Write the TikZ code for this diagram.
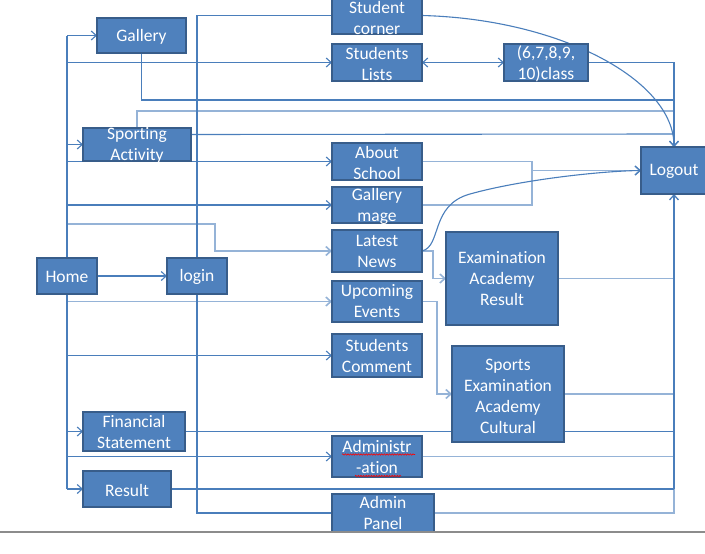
\documentclass[tikz,border=0pt]{standalone}
\usepackage{fontspec}
\setmainfont{Carlito}[Ligatures={NoCommon}]
\usetikzlibrary{arrows.meta,backgrounds,decorations.pathmorphing}
\definecolor{boxfill}{HTML}{4F81BD}
\definecolor{boxline}{HTML}{385D8A}
\definecolor{wire}{HTML}{4A7EBB}
\definecolor{wirelt}{HTML}{95B3D7}
\definecolor{rulegray}{HTML}{8C8C8C}
\tikzset{
 box/.style={draw=boxline, fill=boxfill, line width=1.6pt, inner sep=0pt, outer sep=0pt},
 lbl/.style={text=white, align=center, font=\fontsize{17.5}{21}\selectfont, inner sep=0pt},
 wire/.style={draw=wire, line width=1.1pt},
 wirel/.style={draw=wirelt, line width=1.6pt},
 arr/.style={-{Straight Barb[length=5pt,width=9pt]}},
 darr/.style={{Straight Barb[length=5pt,width=9pt]}-{Straight Barb[length=5pt,width=9pt]}},
 spell/.style={draw=red, line width=0.6pt, decorate, decoration={snake, amplitude=0.7pt, segment length=2.6pt}},
}
\begin{document}
\begin{tikzpicture}[x=1pt,y=-1pt]
\useasboundingbox (0,0) rectangle (705,554);
% boxes
\node[box,minimum width=89pt,minimum height=35pt] (gal) at (141.5,35.5) {};
\node[box,minimum width=108pt,minimum height=33pt] (sport) at (137,144.5) {};
\node[box,minimum width=60pt,minimum height=36pt] (home) at (67,276) {};
\node[box,minimum width=60pt,minimum height=36pt] (login) at (197,276) {};
\node[box,minimum width=102pt,minimum height=39pt] (fin) at (134,431.5) {};
\node[box,minimum width=88pt,minimum height=36pt] (res) at (127,489) {};
\node[box,minimum width=90pt,minimum height=37pt] (scor) at (377,15.5) {};
\node[box,minimum width=90pt,minimum height=37pt] (slist) at (377,62.5) {};
\node[box,minimum width=84pt,minimum height=37pt] (cls) at (546,62.5) {};
\node[box,minimum width=90pt,minimum height=37pt] (about) at (377,161.5) {};
\node[box,minimum width=90pt,minimum height=36pt] (galm) at (377,205) {};
\node[box,minimum width=90pt,minimum height=42pt] (news) at (377,251) {};
\node[box,minimum width=90pt,minimum height=41pt] (upc) at (377,301.5) {};
\node[box,minimum width=90pt,minimum height=43pt] (scom) at (377,355.5) {};
\node[box,minimum width=112pt,minimum height=93pt] (exam) at (502,278.5) {};
\node[box,minimum width=112pt,minimum height=96pt] (spx) at (508,394) {};
\node[box,minimum width=66pt,minimum height=47pt] (logout) at (674,170.5) {};
\node[box,minimum width=90pt,minimum height=41pt] (admn) at (377,456.5) {};
\node[box,minimum width=102pt,minimum height=38pt] (apan) at (383,513) {};
% labels
\node[lbl] (gal-t) at ([yshift=-1pt]gal) {Gallery};
\node[lbl] (sport-t) at ([yshift=-1pt]sport) {Sporting\\Activity};
\node[lbl] (home-t) at ([yshift=-1pt]home) {Home};
\node[lbl] (login-t) at ([yshift=-1pt]login) {login};
\node[lbl] (fin-t) at (fin) {Financial\\Statement};
\node[lbl] (res-t) at ([yshift=-1pt]res) {Result};
\node[lbl] (scor-t) at ([yshift=-2pt]scor) {Student\\corner};
\node[lbl] (slist-t) at ([yshift=-1pt]slist) {Students\\Lists};
\node[lbl] (cls-t) at ([yshift=-1pt]cls) {(6,7,8,9,\\10)class};
\node[lbl] (about-t) at ([yshift=-1pt]about) {About\\School};
\node[lbl] (galm-t) at ([yshift=-1pt]galm) {Gallery\\mage};
\node[lbl] (news-t) at (news) {Latest\\News};
\node[lbl] (upc-t) at (upc) {Upcoming\\Events};
\node[lbl] (scom-t) at (scom) {Students\\Comment};
\node[lbl] (exam-t) at (exam) {Examination\\Academy\\Result};
\node[lbl] (spx-t) at ([yshift=-2pt]spx) {Sports\\Examination\\Academy\\Cultural};
\node[lbl] (logout-t) at ([yshift=-1pt]logout) {Logout};
\node[lbl] (admn-t) at (admn) {Administr\\-ation};
\node[lbl] (apan-t) at (apan) {Admin\\Panel};
% spelling marks
\draw[spell] (342,454.5) -- (415,454.5);
\draw[spell] (355,476) -- (401,476);
% joints
\coordinate (nwj) at (215,224);
\coordinate (brk) at (532,183);
\coordinate (b100) at (674,100);
\coordinate (b111) at (674,111);
\coordinate (b134) at (674,134);
\begin{scope}[on background layer]
 % light wires first
 \draw[wirel,arr] (home |- nwj) -- (nwj) |- (news.west);
 \draw[wirel,arr] (home |- upc.west) -- (upc.west);
 \draw[wirel] (sport.north) |- (b111);
 \draw[wirel,arr] (news.east) -- ++(11,0) |- (exam.west);
 \draw[wirel,arr] (upc.east) -- ++(15,0) |- (spx.west);
 \draw[wirel] (about.east) -| (brk) |- (galm.east);
 \draw[wirel,arr] (brk |- logout.west) -- (logout.west);
 \draw[wirel] (exam.east) -- (exam.east -| logout.south);
 \draw[wirel] (spx.east) -- (spx.east -| logout.south);
 \draw[wirel] (admn.east) -- (admn.east -| logout.south);
 \draw[wirel] (apan.east) -| (logout.south |- res.east);
 % home bus
 \draw[wire] (home |- gal.west) -- (home |- res.west);
 \draw[wire,arr] (home |- gal.west) -- (gal.west);
 \draw[wire,arr] (home |- slist.west) -- (slist.west);
 \draw[wire,arr] (home |- sport.west) -- (sport.west);
 \draw[wire,arr] (home |- about.west) -- (about.west);
 \draw[wire,arr] (home |- galm.west) -- (galm.west);
 \draw[wire,arr] (home |- scom.west) -- (scom.west);
 \draw[wire,arr] (home |- fin.west) -- (fin.west);
 \draw[wire,arr] (home |- admn.west) -- (admn.west);
 \draw[wire,arr] (home |- res.west) -- (res.west);
 \draw[wire,arr] (home) -- (login);
 % login bus
 \draw[wire] (scor.west) -| (login) |- (apan.west);
 % top right
 \draw[wire,arr] (scor.east) .. controls (560,19) and (674,80) .. (logout.north);
 \draw[wire,darr] (slist.east) -- (cls.west);
 \draw[wire,line width=1.3pt,arr] (cls.east) -| (logout.north);
 \draw[wire] (gal.south) |- (b100);
 \draw[wire] ([yshift=10pt]sport.east) -- (b134);
 \draw[wire,arr] (news.east) .. controls (442,246) and (430,205) .. (470,194)
   .. controls (520,180) and (600,171) .. (logout.west);
 % bottom right
 \draw[wire] (fin.east) -- (fin.east -| logout.south);
 \draw[wire] (res.east) -- (res.east -| logout.south);
 \draw[wire,line width=1.3pt,arr] (logout.south |- res.east) -- (logout.south);
\end{scope}
\draw[rulegray, line width=1.8pt] (0,532) -- (705,532);
\end{tikzpicture}
\end{document}
